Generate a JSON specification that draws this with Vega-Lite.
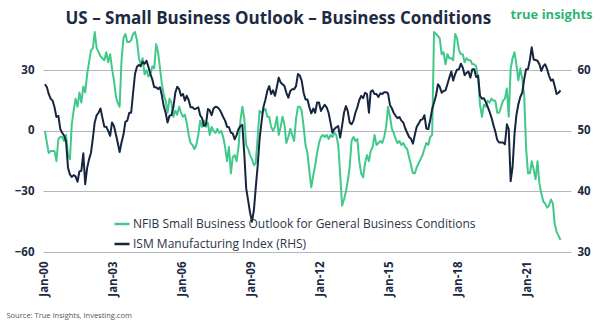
{
  "$schema": "https://vega.github.io/schema/vega-lite/v6.json",
  "width": 528,
  "height": 222,
  "autosize": {"type": "none"},
  "padding": {"left": 43, "top": 30, "right": 29, "bottom": 73},
  "background": "white",
  "config": {"view": {"stroke": null}, "font": "Open Sans"},
  "data": {"values": [
    {"d":"2000-01-01","n":0,"i":57.7},{"d":"2000-02-01","n":-6,"i":57.2},{"d":"2000-03-01","n":-11,"i":56.1},{"d":"2000-04-01","n":-10,"i":55.3},{"d":"2000-05-01","n":-10,"i":55.0},{"d":"2000-06-01","n":-10,"i":53.9},{"d":"2000-07-01","n":-15,"i":52.3},{"d":"2000-08-01","n":-4,"i":52.5},{"d":"2000-09-01","n":-3,"i":50.3},{"d":"2000-10-01","n":-3,"i":49.7},{"d":"2000-11-01","n":-5,"i":49.2},{"d":"2000-12-01","n":-2,"i":48.3},
    {"d":"2001-01-01","n":-12,"i":43.9},{"d":"2001-02-01","n":-14,"i":42.8},{"d":"2001-03-01","n":3,"i":42.4},{"d":"2001-04-01","n":10,"i":42.7},{"d":"2001-05-01","n":16,"i":42.5},{"d":"2001-06-01","n":12,"i":41.6},{"d":"2001-07-01","n":19,"i":43.3},{"d":"2001-08-01","n":14,"i":43.4},{"d":"2001-09-01","n":22,"i":46.3},{"d":"2001-10-01","n":19,"i":41.2},{"d":"2001-11-01","n":28,"i":43.9},{"d":"2001-12-01","n":34,"i":45.3},
    {"d":"2002-01-01","n":40,"i":46.4},{"d":"2002-02-01","n":41,"i":48.9},{"d":"2002-03-01","n":49,"i":51.4},{"d":"2002-04-01","n":41,"i":52.6},{"d":"2002-05-01","n":39,"i":53.0},{"d":"2002-06-01","n":37,"i":53.7},{"d":"2002-07-01","n":36,"i":52.2},{"d":"2002-08-01","n":35,"i":50.7},{"d":"2002-09-01","n":39,"i":50.7},{"d":"2002-10-01","n":34,"i":50.0},{"d":"2002-11-01","n":38,"i":49.2},{"d":"2002-12-01","n":31,"i":51.4},
    {"d":"2003-01-01","n":25,"i":50.8},{"d":"2003-02-01","n":17,"i":49.4},{"d":"2003-03-01","n":14,"i":48.1},{"d":"2003-04-01","n":12,"i":46.5},{"d":"2003-05-01","n":35,"i":48.1},{"d":"2003-06-01","n":46,"i":49.4},{"d":"2003-07-01","n":48,"i":51.5},{"d":"2003-08-01","n":44,"i":51.7},{"d":"2003-09-01","n":44,"i":53.0},{"d":"2003-10-01","n":45,"i":53.0},{"d":"2003-11-01","n":48,"i":56.3},{"d":"2003-12-01","n":49,"i":59.4},
    {"d":"2004-01-01","n":45,"i":60.6},{"d":"2004-02-01","n":36,"i":60.9},{"d":"2004-03-01","n":33,"i":60.7},{"d":"2004-04-01","n":36,"i":61.4},{"d":"2004-05-01","n":28,"i":61.1},{"d":"2004-06-01","n":30,"i":61.6},{"d":"2004-07-01","n":27,"i":60.6},{"d":"2004-08-01","n":28,"i":59.4},{"d":"2004-09-01","n":32,"i":58.5},{"d":"2004-10-01","n":31,"i":57.2},{"d":"2004-11-01","n":43,"i":57.2},{"d":"2004-12-01","n":39,"i":56.9},
    {"d":"2005-01-01","n":31,"i":57.2},{"d":"2005-02-01","n":23,"i":55.8},{"d":"2005-03-01","n":18,"i":54.1},{"d":"2005-04-01","n":15,"i":53.0},{"d":"2005-05-01","n":9,"i":51.4},{"d":"2005-06-01","n":16,"i":52.5},{"d":"2005-07-01","n":14,"i":52.6},{"d":"2005-08-01","n":7,"i":53.9},{"d":"2005-09-01","n":10,"i":56.3},{"d":"2005-10-01","n":8,"i":57.3},{"d":"2005-11-01","n":12,"i":56.9},{"d":"2005-12-01","n":9,"i":55.8},
    {"d":"2006-01-01","n":7,"i":56.1},{"d":"2006-02-01","n":8,"i":55.0},{"d":"2006-03-01","n":4,"i":55.8},{"d":"2006-04-01","n":-2,"i":55.1},{"d":"2006-05-01","n":-6,"i":53.9},{"d":"2006-06-01","n":-7,"i":53.9},{"d":"2006-07-01","n":-9,"i":53.6},{"d":"2006-08-01","n":-7,"i":53.7},{"d":"2006-09-01","n":-2,"i":53.9},{"d":"2006-10-01","n":5,"i":52.6},{"d":"2006-11-01","n":2,"i":52.1},{"d":"2006-12-01","n":5,"i":50.8},
    {"d":"2007-01-01","n":2,"i":51.1},{"d":"2007-02-01","n":4,"i":53.6},{"d":"2007-03-01","n":-2,"i":53.4},{"d":"2007-04-01","n":2,"i":52.6},{"d":"2007-05-01","n":0,"i":53.7},{"d":"2007-06-01","n":-1,"i":54.0},{"d":"2007-07-01","n":1,"i":53.9},{"d":"2007-08-01","n":-1,"i":53.6},{"d":"2007-09-01","n":0,"i":53.0},{"d":"2007-10-01","n":-3,"i":52.3},{"d":"2007-11-01","n":-8,"i":51.7},{"d":"2007-12-01","n":-15,"i":50.7},
    {"d":"2008-01-01","n":-8,"i":50.6},{"d":"2008-02-01","n":-21,"i":49.7},{"d":"2008-03-01","n":-13,"i":49.6},{"d":"2008-04-01","n":-12,"i":48.6},{"d":"2008-05-01","n":-15,"i":49.3},{"d":"2008-06-01","n":-8,"i":50.3},{"d":"2008-07-01","n":5,"i":50.8},{"d":"2008-08-01","n":12,"i":51.0},{"d":"2008-09-01","n":6,"i":46.1},{"d":"2008-10-01","n":-7,"i":40.5},{"d":"2008-11-01","n":-9,"i":38.5},{"d":"2008-12-01","n":-12,"i":36.5},
    {"d":"2009-01-01","n":-14,"i":35.0},{"d":"2009-02-01","n":-17,"i":37.0},{"d":"2009-03-01","n":-16,"i":40.6},{"d":"2009-04-01","n":-3,"i":44.2},{"d":"2009-05-01","n":10,"i":48.6},{"d":"2009-06-01","n":9,"i":51.4},{"d":"2009-07-01","n":10,"i":53.9},{"d":"2009-08-01","n":11,"i":55.1},{"d":"2009-09-01","n":7,"i":56.6},{"d":"2009-10-01","n":7,"i":57.4},{"d":"2009-11-01","n":2,"i":56.1},{"d":"2009-12-01","n":0,"i":56.7},
    {"d":"2010-01-01","n":2,"i":55.8},{"d":"2010-02-01","n":7,"i":57.3},{"d":"2010-03-01","n":-2,"i":58.8},{"d":"2010-04-01","n":2,"i":58.0},{"d":"2010-05-01","n":7,"i":57.7},{"d":"2010-06-01","n":3,"i":57.4},{"d":"2010-07-01","n":-6,"i":56.3},{"d":"2010-08-01","n":-3,"i":55.5},{"d":"2010-09-01","n":1,"i":56.6},{"d":"2010-10-01","n":-2,"i":56.9},{"d":"2010-11-01","n":-5,"i":56.9},{"d":"2010-12-01","n":6,"i":57.4},
    {"d":"2011-01-01","n":12,"i":59.4},{"d":"2011-02-01","n":12,"i":59.1},{"d":"2011-03-01","n":10,"i":58.3},{"d":"2011-04-01","n":2,"i":56.3},{"d":"2011-05-01","n":-7,"i":55.2},{"d":"2011-06-01","n":-11,"i":55.2},{"d":"2011-07-01","n":-20,"i":53.9},{"d":"2011-08-01","n":-28,"i":52.9},{"d":"2011-09-01","n":-22,"i":53.7},{"d":"2011-10-01","n":-17,"i":53.0},{"d":"2011-11-01","n":-11,"i":54.7},{"d":"2011-12-01","n":-6,"i":54.7},
    {"d":"2012-01-01","n":-3,"i":53.3},{"d":"2012-02-01","n":-2,"i":53.9},{"d":"2012-03-01","n":-3,"i":54.3},{"d":"2012-04-01","n":-2,"i":53.9},{"d":"2012-05-01","n":-4,"i":53.0},{"d":"2012-06-01","n":-2,"i":51.4},{"d":"2012-07-01","n":-3,"i":49.7},{"d":"2012-08-01","n":-1,"i":50.3},{"d":"2012-09-01","n":-2,"i":50.6},{"d":"2012-10-01","n":-7,"i":50.8},{"d":"2012-11-01","n":-21,"i":48.9},{"d":"2012-12-01","n":-37,"i":50.8},
    {"d":"2013-01-01","n":-34,"i":53.0},{"d":"2013-02-01","n":-30,"i":54.1},{"d":"2013-03-01","n":-25,"i":53.3},{"d":"2013-04-01","n":-18,"i":51.4},{"d":"2013-05-01","n":-5,"i":51.1},{"d":"2013-06-01","n":-3,"i":51.7},{"d":"2013-07-01","n":-5,"i":53.0},{"d":"2013-08-01","n":-4,"i":53.9},{"d":"2013-09-01","n":-15,"i":55.1},{"d":"2013-10-01","n":-21,"i":55.8},{"d":"2013-11-01","n":-23,"i":55.4},{"d":"2013-12-01","n":-16,"i":56.3},
    {"d":"2014-01-01","n":-12,"i":56.1},{"d":"2014-02-01","n":-15,"i":53.0},{"d":"2014-03-01","n":-10,"i":56.5},{"d":"2014-04-01","n":-8,"i":56.7},{"d":"2014-05-01","n":-2,"i":56.1},{"d":"2014-06-01","n":-7,"i":56.1},{"d":"2014-07-01","n":-6,"i":55.6},{"d":"2014-08-01","n":-5,"i":56.2},{"d":"2014-09-01","n":-6,"i":56.1},{"d":"2014-10-01","n":-3,"i":56.4},{"d":"2014-11-01","n":2,"i":56.4},{"d":"2014-12-01","n":12,"i":56.2},
    {"d":"2015-01-01","n":7,"i":54.3},{"d":"2015-02-01","n":1,"i":53.7},{"d":"2015-03-01","n":-1,"i":53.0},{"d":"2015-04-01","n":-4,"i":52.5},{"d":"2015-05-01","n":-6,"i":52.1},{"d":"2015-06-01","n":-5,"i":52.3},{"d":"2015-07-01","n":-7,"i":51.7},{"d":"2015-08-01","n":-6,"i":51.4},{"d":"2015-09-01","n":-8,"i":50.4},{"d":"2015-10-01","n":-9,"i":49.7},{"d":"2015-11-01","n":-13,"i":49.0},{"d":"2015-12-01","n":-17,"i":48.7},
    {"d":"2016-01-01","n":-21,"i":47.9},{"d":"2016-02-01","n":-21,"i":49.4},{"d":"2016-03-01","n":-18,"i":50.7},{"d":"2016-04-01","n":-16,"i":51.2},{"d":"2016-05-01","n":-14,"i":51.8},{"d":"2016-06-01","n":-12,"i":51.9},{"d":"2016-07-01","n":-9,"i":52.6},{"d":"2016-08-01","n":-6,"i":50.4},{"d":"2016-09-01","n":-7,"i":50.3},{"d":"2016-10-01","n":-3,"i":51.8},{"d":"2016-11-01","n":-2,"i":53.6},{"d":"2016-12-01","n":49,"i":54.7},
    {"d":"2017-01-01","n":48,"i":55.8},{"d":"2017-02-01","n":47,"i":57.7},{"d":"2017-03-01","n":46,"i":57.3},{"d":"2017-04-01","n":38,"i":56.3},{"d":"2017-05-01","n":39,"i":56.6},{"d":"2017-06-01","n":33,"i":56.7},{"d":"2017-07-01","n":38,"i":57.7},{"d":"2017-08-01","n":36,"i":58.8},{"d":"2017-09-01","n":36,"i":59.8},{"d":"2017-10-01","n":35,"i":58.3},{"d":"2017-11-01","n":48,"i":59.4},{"d":"2017-12-01","n":46,"i":60.1},
    {"d":"2018-01-01","n":40,"i":60.2},{"d":"2018-02-01","n":38,"i":61.1},{"d":"2018-03-01","n":38,"i":60.5},{"d":"2018-04-01","n":34,"i":59.2},{"d":"2018-05-01","n":36,"i":59.6},{"d":"2018-06-01","n":35,"i":59.8},{"d":"2018-07-01","n":35,"i":58.8},{"d":"2018-08-01","n":33,"i":60.2},{"d":"2018-09-01","n":33,"i":60.2},{"d":"2018-10-01","n":32,"i":58.9},{"d":"2018-11-01","n":26,"i":59.1},{"d":"2018-12-01","n":13,"i":55.8},
    {"d":"2019-01-01","n":7,"i":55.3},{"d":"2019-02-01","n":13,"i":55.4},{"d":"2019-03-01","n":12,"i":54.8},{"d":"2019-04-01","n":15,"i":54.0},{"d":"2019-05-01","n":14,"i":53.2},{"d":"2019-06-01","n":16,"i":52.2},{"d":"2019-07-01","n":15,"i":51.0},{"d":"2019-08-01","n":15,"i":49.9},{"d":"2019-09-01","n":9,"i":48.5},{"d":"2019-10-01","n":9,"i":48.1},{"d":"2019-11-01","n":12,"i":48.1},{"d":"2019-12-01","n":15,"i":48.1},
    {"d":"2020-01-01","n":16,"i":47.8},{"d":"2020-02-01","n":21,"i":51.1},{"d":"2020-03-01","n":7,"i":50.3},{"d":"2020-04-01","n":31,"i":41.7},{"d":"2020-05-01","n":36,"i":44.0},{"d":"2020-06-01","n":39,"i":49.5},{"d":"2020-07-01","n":33,"i":52.6},{"d":"2020-08-01","n":25,"i":54.4},{"d":"2020-09-01","n":31,"i":55.6},{"d":"2020-10-01","n":26,"i":56.3},{"d":"2020-11-01","n":18,"i":58.5},{"d":"2020-12-01","n":-8,"i":60.2},
    {"d":"2021-01-01","n":-21,"i":60.2},{"d":"2021-02-01","n":-21,"i":61.8},{"d":"2021-03-01","n":-15,"i":63.8},{"d":"2021-04-01","n":-19,"i":61.8},{"d":"2021-05-01","n":-24,"i":61.7},{"d":"2021-06-01","n":-15,"i":61.6},{"d":"2021-07-01","n":-26,"i":61.0},{"d":"2021-08-01","n":-31,"i":59.9},{"d":"2021-09-01","n":-35,"i":60.7},{"d":"2021-10-01","n":-36,"i":61.0},{"d":"2021-11-01","n":-38,"i":60.2},{"d":"2021-12-01","n":-37,"i":59.1},
    {"d":"2022-01-01","n":-34,"i":58.3},{"d":"2022-02-01","n":-36,"i":58.5},{"d":"2022-03-01","n":-46,"i":57.4},{"d":"2022-04-01","n":-50,"i":56.1},{"d":"2022-05-01","n":-52,"i":56.3},{"d":"2022-06-01","n":-54,"i":56.7}
  ]},
  "layer": [
    {
      "mark": {"type": "line", "strokeWidth": 2, "strokeJoin": "round"},
      "encoding": {
        "x": {"field": "d", "type": "temporal",
          "scale": {"type": "utc", "domain": [{"year": 1999, "month": 12, "date": 1, "utc": true}, {"year": 2022, "month": 11, "date": 15, "utc": true}], "nice": false},
          "axis": {
            "values": [{"year": 2000, "month": 1, "date": 1, "utc": true}, {"year": 2003, "month": 1, "date": 1, "utc": true}, {"year": 2006, "month": 1, "date": 1, "utc": true}, {"year": 2009, "month": 1, "date": 1, "utc": true}, {"year": 2012, "month": 1, "date": 1, "utc": true}, {"year": 2015, "month": 1, "date": 1, "utc": true}, {"year": 2018, "month": 1, "date": 1, "utc": true}, {"year": 2021, "month": 1, "date": 1, "utc": true}],
            "format": "%b-%y", "labelAngle": 270, "labelAlign": "right", "labelBaseline": "middle", "labelPadding": 9,
            "labelFontSize": 11.5, "labelFontWeight": "bold", "labelColor": "#1c2a43", "labelFont": "Open Sans",
            "ticks": false, "domain": false, "grid": false,
            "title": "Source: True Insights, Investing.com", "titleFontSize": 7.5, "titleFontWeight": "normal", "titleColor": "#555555", "titleFont": "Open Sans",
            "titleAnchor": "start", "titleAlign": "left", "titleBaseline": "middle", "titleX": -37, "titleY": 63
          }
        },
        "y": {"field": "n", "type": "quantitative",
          "scale": {"domain": [-60, 50], "nice": false, "zero": false},
          "axis": {"values": [-60, -30, 0, 30], "grid": true, "gridColor": "#b4b8bd", "gridWidth": 1, "domain": false, "ticks": false, "labelPadding": 9, "labelFontSize": 11.5, "labelFontWeight": "bold", "labelColor": "#1c2a43", "labelFont": "Open Sans",
            "title": "US – Small Business Outlook – Business Conditions", "titleAngle": 0, "titleAlign": "left", "titleBaseline": "alphabetic", "titleX": 22, "titleY": -7, "titleFontSize": 17, "titleFont": "Open Sans", "titleFontWeight": "bold", "titleColor": "#1c2a43"}
        },
        "color": {"datum": "NFIB Small Business Outlook for General Business Conditions",
          "scale": {"domain": ["NFIB Small Business Outlook for General Business Conditions", "ISM Manufacturing Index (RHS)"], "range": ["#41c98b", "#172540"]},
          "legend": {"orient": "none", "legendX": 70, "legendY": 185, "direction": "vertical", "title": null, "symbolType": "stroke", "symbolStrokeWidth": 2.5, "symbolSize": 225, "labelFontSize": 12, "labelFont": "Open Sans", "labelColor": "#2b3548", "rowPadding": 5, "labelOffset": 2, "labelLimit": 600}
        }
      }
    },
    {
      "mark": {"type": "line", "strokeWidth": 2, "strokeJoin": "round"},
      "encoding": {
        "x": {"field": "d", "type": "temporal"},
        "y": {"field": "i", "type": "quantitative",
          "scale": {"domain": [30, 66.667], "nice": false, "zero": false},
          "axis": {"orient": "right", "values": [30, 40, 50, 60], "grid": false, "domain": false, "ticks": false, "labelPadding": 6, "labelFontSize": 11.5, "labelFontWeight": "bold", "labelColor": "#1c2a43", "labelFont": "Open Sans",
            "title": "true insights", "titleAngle": 0, "titleAlign": "left", "titleBaseline": "middle", "titleX": -61, "titleY": -16, "titleColor": "#2db673", "titleFontSize": 13, "titleFont": "Open Sans", "titleFontWeight": "bold"}
        },
        "color": {"datum": "ISM Manufacturing Index (RHS)"}
      }
    }
  ],
  "resolve": {"scale": {"y": "independent"}}
}
